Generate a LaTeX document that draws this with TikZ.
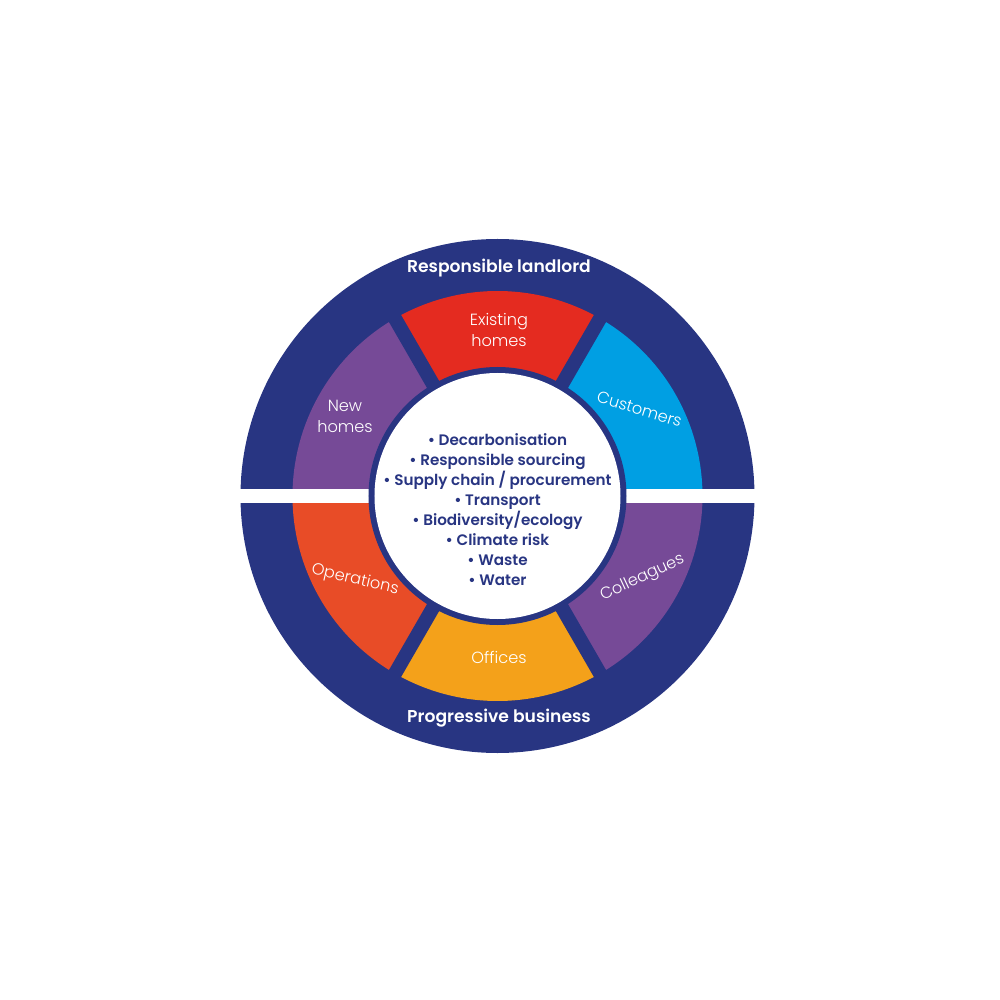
\documentclass[tikz,border=0pt]{standalone}
\usepackage{fontspec}
\setmainfont{Poppins}
\newfontfamily\headfont{Poppins SemiBold}
\newfontfamily\segfont{Poppins Light}
\usetikzlibrary{scopes}

\definecolor{navy}{HTML}{283582}
\definecolor{segred}{HTML}{E42B20}
\definecolor{segblue}{HTML}{009FE3}
\definecolor{segpurple}{HTML}{764A97}
\definecolor{segorange}{HTML}{E84C27}
\definecolor{segyellow}{HTML}{F4A11A}

\begin{document}
\begin{tikzpicture}[x=0.025cm,y=0.025cm]
\useasboundingbox (-497.5,-504) rectangle (502.5,496);

% outer ring and the six sectors
\fill[navy] (0,0) circle[radius=257];
\fill[segblue]   (0,0) -- (0:205)   arc[start angle=0,   end angle=60,  radius=205] -- cycle;
\fill[segred]    (0,0) -- (60:205)  arc[start angle=60,  end angle=120, radius=205] -- cycle;
\fill[segpurple] (0,0) -- (120:205) arc[start angle=120, end angle=180, radius=205] -- cycle;
\fill[segorange] (0,0) -- (180:205) arc[start angle=180, end angle=240, radius=205] -- cycle;
\fill[segyellow] (0,0) -- (240:205) arc[start angle=240, end angle=300, radius=205] -- cycle;
\fill[segpurple] (0,0) -- (300:205) arc[start angle=300, end angle=360, radius=205] -- cycle;

\begin{scope}[navy,line width=0.35cm]
    \draw (0,0) -- (60:212);
    \draw (0,0) -- (120:212);
    \draw (0,0) -- (240:212);
    \draw (0,0) -- (300:212);
\end{scope}
\fill[white] (-262,-7) rectangle (262,7);

% centre disc
\fill[navy] (0,0) circle[radius=129];
\fill[white] (0,0) circle[radius=123];

\begin{scope}[every node/.style={text=white,inner sep=0pt,align=center}]
    \node[font=\headfont\fontsize{12.2pt}{14pt}\selectfont] (landlord) at (1.5,228) {Responsible landlord};
    \node[font=\headfont\fontsize{12.2pt}{14pt}\selectfont] (business) at (1.5,-222) {Progressive business};
\end{scope}

\begin{scope}[every node/.style={text=white,inner sep=0pt,align=center,
              font=\segfont\fontsize{11.5pt}{15pt}\selectfont}]
    \node (existing) at (1.5,166) {Existing\\homes};
    \node (new) at (-152.5,80) {New\\homes};
    \node[rotate=-17] (customers) at (142,87) {Customers};
    \node[rotate=-13] (operations) at (-142.5,-84) {Operations};
    \node (offices) at (1.5,-161) {Offices};
    \node[rotate=25] (colleagues) at (145,-82) {Colleagues};
\end{scope}

\node[text=navy,inner sep=0pt,align=center,
      font=\headfont\fontsize{10.8pt}{14.2pt}\selectfont] (topics) at (0,-13.5)
    {\textbullet\ Decarbonisation\\
     \textbullet\ Responsible sourcing\\
     \textbullet\ Supply chain / procurement\\
     \textbullet\ Transport\\
     \textbullet\ Biodiversity/ecology\\
     \textbullet\ Climate risk\\
     \textbullet\ Waste\\
     \textbullet\ Water};
\end{tikzpicture}
\end{document}
